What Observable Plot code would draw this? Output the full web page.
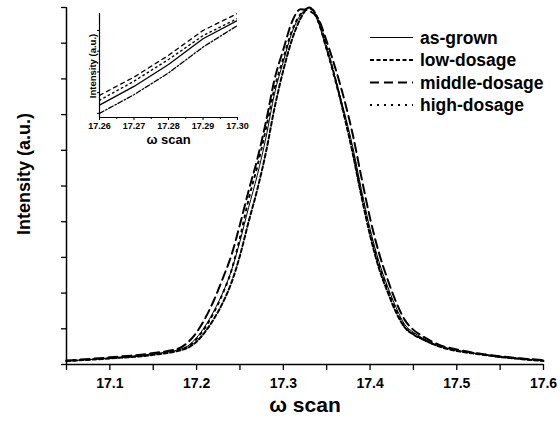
<!DOCTYPE html>
<html><head><meta charset="utf-8">
<script src="https://cdn.jsdelivr.net/npm/d3@7"></script>
<script src="https://cdn.jsdelivr.net/npm/@observablehq/plot@0.6"></script>
<style>
body{margin:0;background:#fff;font-family:"Liberation Sans",Arial,sans-serif;}
#wrap{position:relative;width:560px;height:421px;overflow:hidden;background:#fff;}
#wrap > svg{position:absolute;}
</style></head><body><div id="wrap"></div>
<script>
// ω scan positions (deg)
const omega = [17.05,17.10,17.15,17.18,17.19,17.20,17.21,17.22,17.23,17.24,17.25,17.26,17.27,17.28,17.29,17.30,17.31,17.32,17.33,17.34,17.35,17.36,17.37,17.38,17.39,17.40,17.41,17.42,17.43,17.44,17.45,17.46,17.48,17.50,17.525,17.55,17.575,17.60];
const asGrown      = [0.010,0.018,0.030,0.042,0.052,0.075,0.108,0.150,0.200,0.262,0.345,0.440,0.530,0.636,0.760,0.848,0.930,0.980,1.000,0.960,0.880,0.800,0.710,0.610,0.490,0.380,0.290,0.220,0.160,0.112,0.090,0.075,0.052,0.040,0.030,0.022,0.016,0.011];
const lowDosage    = [0.010,0.017,0.027,0.039,0.047,0.064,0.092,0.128,0.172,0.228,0.305,0.400,0.490,0.595,0.720,0.824,0.910,0.970,1.000,0.968,0.888,0.800,0.700,0.592,0.472,0.362,0.272,0.205,0.146,0.104,0.084,0.071,0.050,0.038,0.029,0.021,0.015,0.010];
const middleDosage = [0.011,0.020,0.032,0.046,0.062,0.090,0.130,0.180,0.240,0.305,0.392,0.487,0.575,0.680,0.800,0.882,0.960,0.995,0.990,0.970,0.905,0.830,0.745,0.645,0.525,0.410,0.315,0.240,0.175,0.125,0.097,0.080,0.055,0.042,0.031,0.023,0.017,0.012];
const highDosage   = [0.010,0.018,0.029,0.042,0.050,0.072,0.104,0.146,0.198,0.262,0.355,0.463,0.555,0.660,0.775,0.858,0.935,0.982,0.998,0.962,0.882,0.795,0.700,0.597,0.480,0.370,0.282,0.212,0.152,0.106,0.086,0.072,0.051,0.039,0.030,0.022,0.016,0.011];

const seriesNames = ["as-grown","low-dosage","middle-dosage","high-dosage"];
const xTickLabels = [17.1,17.2,17.3,17.4,17.5,17.6];
const xTicksAll = [17.05,17.1,17.15,17.2,17.25,17.3,17.35,17.4,17.45,17.5,17.55,17.6];
const yTicks = [0,0.1,0.2,0.3,0.4,0.5,0.6,0.7,0.8,0.9,1.0];
const insetXTicks = [17.26,17.27,17.28,17.29,17.30];
const insetXMinor = [17.265,17.275,17.285,17.295];
const insetYTicks = [0.4,0.5,0.6,0.7,0.8];

const valuesBySeries = [asGrown, lowDosage, middleDosage, highDosage];
const styles = [
  {stroke:"#000", strokeWidth:1, dash:null},
  {stroke:"#000", strokeWidth:2, dash:"4,2.5"},
  {stroke:"#000", strokeWidth:2, dash:"9,5"},
  {stroke:"#000", strokeWidth:2, dash:"2,5"}
];
const insetStyles = [
  {strokeWidth:1.3, dash:null},
  {strokeWidth:1.3, dash:"5,2,1.5,2"},
  {strokeWidth:1.3, dash:"4,4"},
  {strokeWidth:1.4, dash:"1.5,3.5"}
];
const rowsOf = (vals) => omega.map((w,i)=>({w, v: vals[i]}));
const font = "Liberation Sans, Arial, sans-serif";

const main = Plot.plot({
  width:560, height:421,
  marginLeft:66, marginRight:17, marginTop:7, marginBottom:57,
  style:{fontFamily:font, background:"transparent", color:"#000", overflow:"visible"},
  x:{domain:[17.05,17.6]},
  y:{domain:[0,1]},
  marks:[
    ...valuesBySeries.map((vals,k)=>Plot.line(rowsOf(vals), {
      x:"w", y:"v", stroke:styles[k].stroke, strokeWidth:styles[k].strokeWidth,
      strokeDasharray:styles[k].dash ?? undefined, curve:"monotone-x"
    })),
    Plot.ruleY([0], {strokeWidth:1.5}),
    Plot.ruleX([17.05], {strokeWidth:1.5}),
    Plot.axisX({ticks:xTicksAll, tickSize:6, tickPadding:8, strokeWidth:1.3,
      tickFormat:d => xTickLabels.some(t=>Math.abs(t-d)<1e-9) ? d.toFixed(1) : "",
      fontSize:14, fontWeight:"bold", label:null}),
    Plot.axisY({ticks:yTicks, tickSize:5, strokeWidth:1.3, tickFormat:()=>"", label:null}),
    Plot.text(["ω scan"], {frameAnchor:"bottom", dy:47, fontSize:21, fontWeight:"bold"}),
    Plot.text(["Intensity (a.u.)"], {frameAnchor:"left", dx:-42, dy:-12, rotate:-90, textAnchor:"middle", fontSize:18, fontWeight:"bold"})
  ]
});
main.style.left="0px"; main.style.top="0px";
document.getElementById("wrap").appendChild(main);

// inset
const inLeft = 70, inW = 180, inH = 150;
const inset = Plot.plot({
  width:inW, height:inH,
  marginLeft:29, marginRight:13, marginTop:13, marginBottom:33,
  style:{fontFamily:font, background:"transparent", color:"#000", overflow:"visible"},
  x:{domain:[17.26,17.30]},
  y:{domain:[0.38,0.882]},
  marks:[
    ...valuesBySeries.map((vals,k)=>Plot.line(rowsOf(vals).filter(d=>d.w>=17.255 && d.w<=17.305), {
      x:"w", y:"v", stroke:"#000", strokeWidth:insetStyles[k].strokeWidth,
      strokeDasharray:insetStyles[k].dash ?? undefined, clip:true
    })),
    Plot.ruleY([0.38], {strokeWidth:1.2}),
    Plot.ruleX([17.26], {strokeWidth:1.2}),
    Plot.axisX({ticks:insetXTicks, tickSize:3, tickPadding:2, tickFormat:d=>d.toFixed(2), fontSize:9, fontWeight:"bold", label:null}),
    Plot.axisX({ticks:insetXMinor, tickSize:2, tickFormat:()=>"", label:null}),
    Plot.axisY({ticks:insetYTicks, tickSize:2, tickFormat:()=>"", label:null}),
    Plot.text(["ω scan"], {frameAnchor:"bottom", dy:26, fontSize:13, fontWeight:"bold"})
  ]
});
inset.style.left = inLeft+"px"; inset.style.top="0px";
document.getElementById("wrap").appendChild(inset);

// overlay: inset y label + legend
const leg = d3.select("#wrap").append("svg")
  .attr("width",560).attr("height",421)
  .style("left","0px").style("top","0px").style("pointer-events","none");
leg.append("text")
  .attr("transform","translate(96,66) rotate(-90)")
  .attr("text-anchor","middle")
  .attr("font-family",font).attr("font-size",9.5).attr("font-weight","bold")
  .text("Intensity (a.u.)");
const legRowY = [37.5, 60, 82.5, 105];
seriesNames.forEach((name,k)=>{
  const y = legRowY[k];
  leg.append("line").attr("x1",370).attr("x2",413).attr("y1",y).attr("y2",y)
    .attr("stroke","#000").attr("stroke-width", k===0?1:2)
    .attr("stroke-dasharray", styles[k].dash ?? null);
  leg.append("text").attr("x",420).attr("y",y).attr("dy","0.35em")
    .attr("font-family",font).attr("font-size",17.5).attr("font-weight","bold")
    .text(name);
});
</script></body></html>
